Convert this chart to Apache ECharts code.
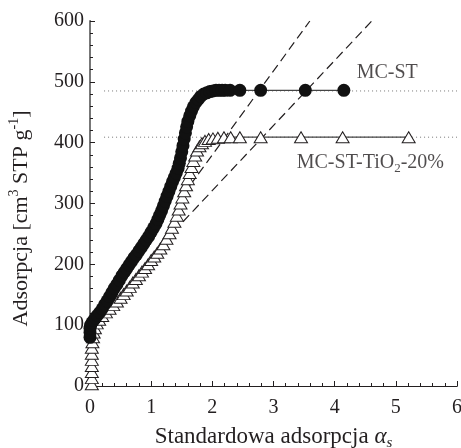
<!DOCTYPE html>
<html>
<head>
<meta charset="utf-8">
<script src="https://cdn.jsdelivr.net/npm/echarts@6/dist/echarts.min.js"></script>
<style>
  html, body { margin: 0; padding: 0; background: #fff; }
  #chart { width: 461px; height: 448px; }
</style>
</head>
<body>
<div id="chart"></div>
<script>
// MC-ST (filled circles), [alpha_s, adsorption]
var mcst = [
  [0.00, 80], [0.00, 88], [0.00, 95], [0.01, 100], [0.03, 104], [0.06, 108], [0.09, 112],
  [0.12, 116], [0.16, 121], [0.20, 127], [0.24, 134], [0.28, 140], [0.32, 147], [0.36, 154],
  [0.40, 161], [0.44, 167], [0.48, 174], [0.52, 181], [0.56, 187], [0.60, 193], [0.64, 199],
  [0.68, 205], [0.72, 211], [0.76, 216], [0.80, 222], [0.84, 228], [0.88, 234], [0.92, 240],
  [0.96, 246], [1.00, 253], [1.04, 260], [1.08, 267], [1.11, 274], [1.14, 281], [1.17, 288],
  [1.20, 296], [1.23, 304], [1.26, 312], [1.29, 320], [1.32, 328], [1.35, 336], [1.38, 343],
  [1.41, 350], [1.44, 358], [1.46, 366], [1.48, 375], [1.50, 385], [1.52, 395], [1.54, 406],
  [1.56, 416], [1.58, 426], [1.60, 435], [1.63, 444], [1.66, 452], [1.69, 459], [1.73, 466],
  [1.77, 471], [1.81, 476], [1.86, 480], [1.91, 482], [1.96, 484], [2.01, 485], [2.06, 486],
  [2.11, 486], [2.16, 486], [2.21, 486], [2.29, 486], [2.45, 486], [2.79, 486], [3.52, 486],
  [4.15, 486]
];

// MC-ST-TiO2-20% (open triangles)
var tio2 = [
  [0.03, 3], [0.03, 13], [0.03, 23], [0.03, 33], [0.03, 43], [0.03, 53], [0.03, 63],
  [0.04, 72], [0.05, 80], [0.06, 88], [0.08, 95], [0.11, 103], [0.15, 109], [0.20, 115],
  [0.26, 121], [0.32, 127], [0.38, 133], [0.44, 139], [0.50, 145], [0.55, 151], [0.60, 157],
  [0.65, 163], [0.70, 170], [0.75, 176], [0.80, 182], [0.85, 188], [0.90, 194], [0.95, 200],
  [1.00, 207], [1.05, 213], [1.10, 219], [1.15, 226], [1.20, 233], [1.25, 242], [1.30, 251],
  [1.34, 260], [1.38, 270], [1.42, 280], [1.45, 290], [1.48, 300], [1.51, 310], [1.54, 320],
  [1.57, 330], [1.60, 340], [1.63, 350], [1.66, 360], [1.69, 370], [1.72, 379], [1.75, 387],
  [1.79, 394], [1.83, 399], [1.88, 403], [1.94, 406], [2.01, 407], [2.09, 408], [2.19, 409],
  [2.30, 409], [2.45, 409], [2.79, 409], [3.45, 409], [4.13, 409], [5.21, 409]
];

// extrapolated linear parts (dashed)
var dashA = [[1.50, 311], [3.594, 600]];
var dashB = [[1.52, 270], [4.607, 600]];

// plateau reference lines (dotted)
var dotMC = [[0.23, 485], [6, 485]];
var dotTi = [[0.23, 409], [6, 409]];

// label anchors
var labelMC = [4.36, 515];
var labelTi = [3.38, 367];

var xTicks = [0, 1, 2, 3, 4, 5, 6];
var yTicks = [0, 100, 200, 300, 400, 500, 600];

var serif = 'Liberation Serif';
var ink = '#231f20';

var chart = echarts.init(document.getElementById('chart'));

var option = {
  animation: false,
  grid: { left: 90, top: 21, right: 4, bottom: 62, containLabel: false, outerBoundsMode: 'none' },
  xAxis: [{
    type: 'value',
    min: xTicks[0], max: xTicks[xTicks.length - 1], interval: 1,
    axisLine: { lineStyle: { color: ink, width: 1 } },
    axisTick: { inside: true, length: 5, lineStyle: { color: ink } },
    minorTick: { show: true, splitNumber: 5, length: 3, lineStyle: { color: ink } },
    splitLine: { show: false },
    axisLabel: { color: ink, fontFamily: serif, fontSize: 20, margin: 12 },
    name: '{t|Standardowa adsorpcja }{a|α}{s|s}',
    nameLocation: 'middle',
    nameGap: 37,
    nameTextStyle: {
      rich: {
        t: { fontFamily: serif, fontSize: 23, color: ink, lineHeight: 28 },
        a: { fontFamily: serif, fontStyle: 'italic', fontSize: 23, color: ink, lineHeight: 28 },
        s: { fontFamily: serif, fontStyle: 'italic', fontSize: 15, color: ink, lineHeight: 17, verticalAlign: 'bottom' }
      }
    }
  }, {
    type: 'value', position: 'top', min: 0, max: 6,
    axisLine: { show: true, lineStyle: { color: ink, width: 1 } },
    axisTick: { show: false }, axisLabel: { show: false }, splitLine: { show: false }
  }],
  yAxis: [{
    type: 'value',
    min: yTicks[0], max: yTicks[yTicks.length - 1], interval: 100,
    axisLine: { show: true, lineStyle: { color: ink, width: 1 } },
    axisTick: { show: true, inside: true, length: 5, lineStyle: { color: ink } },
    minorTick: { show: true, splitNumber: 5, length: 3, lineStyle: { color: ink } },
    splitLine: { show: false },
    axisLabel: { color: ink, fontFamily: serif, fontSize: 20, margin: 6 },
    name: '{t|Adsorpcja [cm}{sup|3}{t| STP g}{sup|-1}{t|]}',
    nameLocation: 'middle',
    nameRotate: 90,
    nameGap: 55,
    nameTextStyle: {
      padding: [0, 30, 0, 0],
      rich: {
        t: { fontFamily: serif, fontSize: 22, color: ink, lineHeight: 28 },
        sup: { fontFamily: serif, fontSize: 14, color: ink, lineHeight: 17, verticalAlign: 'top' }
      }
    }
  }, {
    type: 'value', position: 'right', min: 0, max: 600,
    axisLine: { show: true, lineStyle: { color: '#777', width: 2 } },
    axisTick: { show: false }, axisLabel: { show: false }, splitLine: { show: false }
  }],
  series: [
    {
      type: 'line', data: dotMC, symbol: 'none', silent: true,
      lineStyle: { color: '#777', width: 1, type: [1, 3] }
    },
    {
      type: 'line', data: dotTi, symbol: 'none', silent: true,
      lineStyle: { color: '#777', width: 1, type: [1, 3] }
    },
    {
      type: 'line', data: dashA, symbol: 'none', silent: true,
      lineStyle: { color: ink, width: 1.2, type: [9, 5] }
    },
    {
      type: 'line', data: dashB, symbol: 'none', silent: true,
      lineStyle: { color: ink, width: 1.2, type: [9, 5] }
    },
    {
      name: 'MC-ST-TiO2-20%',
      type: 'line', data: tio2,
      symbol: 'triangle', symbolSize: [13, 11], showAllSymbol: true,
      itemStyle: { color: '#fff', borderColor: ink, borderWidth: 1 },
      lineStyle: { color: '#444', width: 1.2 }
    },
    {
      name: 'MC-ST',
      type: 'line', data: mcst,
      symbol: 'circle', symbolSize: 13, showAllSymbol: true,
      itemStyle: { color: '#111' },
      lineStyle: { color: '#444', width: 1.2 }
    },
    {
      type: 'scatter', data: [labelMC, labelTi], symbolSize: 0, silent: true,
      label: {
        show: true, position: 'right', distance: 0,
        formatter: function (p) {
          return p.dataIndex === 0 ? '{t|MC-ST}' : '{t|MC-ST-TiO}{sub|2}{t|-20%}';
        },
        rich: {
          t: { fontFamily: serif, fontSize: 20, color: ink, lineHeight: 24 },
          sub: { fontFamily: serif, fontSize: 13, color: ink, lineHeight: 14, verticalAlign: 'bottom' }
        }
      }
    }
  ]
};

chart.setOption(option);
</script>
</body>
</html>
